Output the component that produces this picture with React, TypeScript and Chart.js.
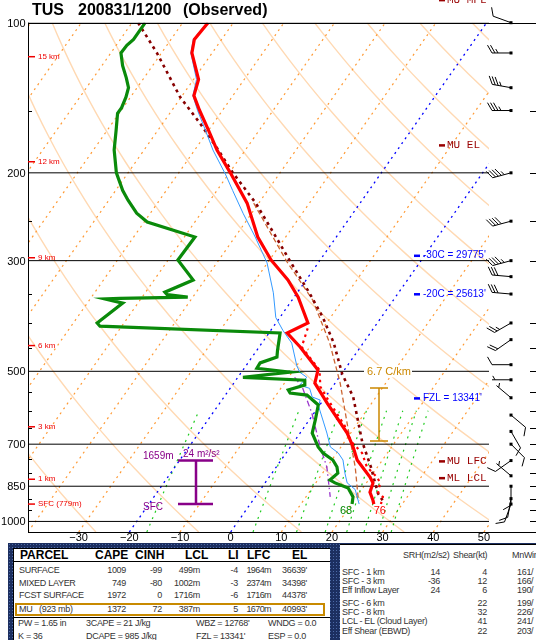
import React, { useEffect, useRef } from "react";
import { Chart, registerables } from "chart.js";

Chart.register(...registerables);

// ---------- axes ----------
const P_BOTTOM = 1050;
const P_TOP = 100;
const T_MIN = -40;
const T_MAX = 51;
const SKEW = 30;

const pressureLevels = [100, 200, 300, 500, 700, 850, 1000];
const pressureLabels = ["100", "200", "300", "500", "700", "850", "1000"];
const minorPressure = [150, 250, 350, 400, 450, 550, 600, 650, 750, 800, 900, 950];
const rightTickPressure = [150, 200, 250, 300, 400, 450, 500, 550, 600, 650, 700, 750, 800, 850, 900, 950, 1000];
const tempTickValues = [-30, -20, -10, 0, 10, 20, 30, 40, 50];
const tempTickLabels = ["−30", "−20", "−10", "0", "10", "20", "30", "40", "50"];

// ---------- reference lines ----------
const isotherms = [-110, -100, -90, -80, -70, -60, -50, -40, -30, -10, 10, 20, 30, 40, 50];
const blueIsotherms = [-20, 0];
const dryAdiabatsC = [-30, -10, 10, 30, 50, 70, 90, 110, 130, 150, 170, 190, 210, 230, 250];
const mixingRatios = [1, 5, 9, 13, 17, 21, 25, 29];
const MIX_TOP = 600;

// ---------- sounding ----------
const tempP = [100, 108, 115, 130, 140, 150, 164, 180, 200, 230, 269, 299, 328, 355, 400, 419, 447, 497, 528, 579, 665, 709, 753, 815, 837, 874, 907, 923];
const tempC = [-75.0, -75.4, -74.0, -69.0, -67.7, -64.5, -60.1, -55.6, -49.8, -42.3, -35.5, -29.7, -23.6, -19.2, -13.7, -16.4, -11.9, -5.2, -4.0, 1.2, 9.3, 12.4, 15.0, 19.9, 21.3, 22.0, 23.7, 24.4];

const dewP = [100, 108, 111, 115, 122, 129, 135, 141, 148, 152, 164, 180, 200, 217, 227, 241, 251, 269, 299, 328, 347, 351, 355, 357, 358, 365, 400, 406, 419, 454, 468, 481, 493, 502, 514, 521, 533, 545, 553, 558, 584, 626, 665, 709, 729, 753, 778, 800, 826, 837, 857, 893, 923];
const dewC = [-87.4, -87.4, -87.9, -88.0, -85.9, -83.5, -81.7, -80.9, -80.3, -80.3, -78.3, -75.9, -72.3, -68.6, -66.2, -62.7, -59.4, -47.9, -48.1, -42.3, -46.2, -45.4, -41.0, -54.2, -57.1, -53.0, -55.3, -54.3, -17.8, -15.9, -15.1, -17.6, -17.5, -10.4, -19.0, -6.4, -5.7, -8.3, -7.5, -3.9, -0.3, 1.2, 2.4, 5.5, 7.3, 10.2, 12.0, 13.0, 12.4, 13.8, 17.1, 19.3, 20.1];

const wetP = [100, 108, 115, 130, 140, 150, 164, 180, 202, 217, 241, 269, 303, 348, 390, 414, 439, 487, 502, 514, 533, 541, 563, 571, 587, 632, 665, 709, 729, 753, 800, 837, 863, 923];
const wetC = [-75.2, -75.6, -74.2, -69.4, -67.9, -64.9, -60.7, -56.4, -50.4, -46.9, -41.7, -36.0, -30.1, -24.7, -20.8, -17.6, -14.1, -10.0, -8.5, -6.4, -6.7, -4.3, -2.6, -0.6, -0.1, 3.1, 5.3, 7.9, 10.3, 12.2, 14.4, 16.2, 18.7, 21.5];

const virtP = [410, 447, 497, 537, 566, 607, 643, 691, 729, 778, 815, 837, 874, 893, 923];
const virtC = [-13.0, -11.6, -4.9, -2.4, 0.5, 4.5, 7.8, 11.2, 15.0, 17.9, 21.3, 22.7, 23.6, 25.2, 25.8];

const muParcelP = [100, 115, 141, 159, 178, 200, 230, 269, 299, 348, 390, 439, 507, 563, 691, 778, 878, 907];
const muParcelC = [-88.8, -80.9, -70.2, -62.7, -56.0, -49.3, -40.6, -31.9, -26.1, -17.6, -11.5, -5.8, 0.2, 5.5, 13.4, 18.7, 23.7, 25.6];

const moistP = [230, 300, 360, 439, 528, 647, 778, 893, 907];
const moistC = [-41.0, -26.6, -15.9, -6.6, 1.0, 8.6, 15.6, 20.3, 21.1];

const downdraftP = [514, 537, 607, 709, 778, 893];
const downdraftC = [-8.8, -6.0, -0.4, 5.9, 10.0, 14.8];

// ---------- winds ----------
const windP = [100, 115, 135, 150, 200, 250, 300, 323, 350, 400, 432, 485, 520, 565, 612, 660, 700, 755, 810, 850, 900, 923];
const windDir = [290, 270, 280, 270, 255, 255, 255, 275, 275, 240, 235, 270, 270, 310, 130, 150, 135, 235, 310, 180, 190, 200];
const windKt = [10, 25, 35, 35, 45, 40, 45, 30, 30, 25, 20, 10, 5, 5, 10, 10, 10, 10, 5, 10, 10, 10];

// ---------- annotations ----------
const heightLabels = ["15 km", "12 km", "9 km", "6 km", "3 km", "1 km", "SFC (779m)"];
const heightLabelP = [117, 190, 296, 444, 646, 823, 923];
const parcelLevelNames = ["MU MPL", "MU EL", "MU LFC", "ML LCL"];
const parcelLevelP = [90, 176, 757, 818];
const isoLevelNames = ["-30C = 29775'", "-20C = 25613'", "FZL = 13341'"];
const isoLevelP = [293, 350, 566];
const lapseLabel = "6.7 C/km";
const lapseLabelP = 500;
const lapseBarP = [540, 690];
const inflowP = [923, 755];
const inflowTopLabel = "1659m";
const inflowSrhLabel = "24 m²/s²";

// ---------- table ----------
const parcelNames = ["SURFACE", "MIXED LAYER", "FCST SURFACE", "MU   (923 mb)"];
const capeVals = ["1009", "749", "1972", "1372"];
const cinhVals = ["-99", "-80", "0", "72"];
const lclVals = ["499m", "1002m", "1716m", "387m"];
const liVals = ["-4", "-3", "-6", "5"];
const lfcVals = ["1964m", "2374m", "1716m", "1670m"];
const elVals = ["36639'", "34398'", "44378'", "40993'"];
const extraRow1 = ["PW = 1.65 in", "3CAPE = 21 J/kg", "WBZ = 12768'", "WNDG = 0.0"];
const extraRow2 = ["K = 36", "DCAPE = 985 J/kg", "FZL = 13341'", "ESP = 0.0"];
const kinLabels = ["SFC - 1 km", "SFC - 3 km", "Eff Inflow Layer", "SFC - 6 km", "SFC - 8 km", "LCL - EL (Cloud Layer)", "Eff Shear (EBWD)"];
const kinSrh = ["14", "-36", "24", "", "", "", ""];
const kinShear = ["4", "12", "6", "22", "32", "41", "22"];
const kinMnWind = ["161/", "166/", "190/", "199/", "226/", "241/", "203/"];

const skew = (t: number, p: number) => t + SKEW * Math.log(P_BOTTOM / p);
const profile = (P: number[], C: number[]) => P.map((p, i) => ({ x: skew(C[i], p), y: p }));
const logSpace = (n: number) => {
  const a: number[] = [];
  for (let i = 0; i <= n; i++) a.push(P_BOTTOM * Math.pow(P_TOP / P_BOTTOM, i / n));
  return a;
};
const dryAdiabat = (thC: number) =>
  logSpace(40).map((p) => ({ x: skew((thC + 273.15) * Math.pow(p / 1000, 0.2857) - 273.15, p), y: p }));
const mixingLine = (w: number) => {
  const out: { x: number; y: number }[] = [];
  for (let i = 0; i <= 12; i++) {
    const p = P_BOTTOM + ((MIX_TOP - P_BOTTOM) * i) / 12;
    const e = (w * p) / (622 + w);
    const l = Math.log(e / 6.112);
    const td = (243.5 * l) / (17.67 - l);
    out.push({ x: skew(td, p), y: p });
  }
  return out;
};
const isoLine = (t: number) => [
  { x: skew(t, P_BOTTOM), y: P_BOTTOM },
  { x: skew(t, P_TOP), y: P_TOP },
];

const ds = (data: any[], color: string, width: number, dash: number[], order: number) => ({
  data,
  borderColor: color,
  backgroundColor: color,
  borderWidth: width,
  borderDash: dash,
  pointRadius: 0,
  showLine: true,
  fill: false,
  tension: 0,
  order,
});

function drawBarb(ctx: CanvasRenderingContext2D, x: number, y: number, dir: number, spd: number) {
  const r = (dir * Math.PI) / 180;
  const ux = Math.sin(r);
  const uy = -Math.cos(r);
  const L = 19;
  const tx = x + ux * L;
  const ty = y + uy * L;
  const px = -uy;
  const py = ux;
  ctx.beginPath();
  ctx.moveTo(x, y);
  ctx.lineTo(tx, ty);
  ctx.stroke();
  let s = Math.round(spd / 5) * 5;
  let pos = 0;
  const step = 3;
  const bl = 9;
  const barb = (d: number, len: number) => {
    const bx = tx - ux * d;
    const by = ty - uy * d;
    ctx.beginPath();
    ctx.moveTo(bx, by);
    ctx.lineTo(bx + (px * 0.87 + ux * 0.5) * len, by + (py * 0.87 + uy * 0.5) * len);
    ctx.stroke();
  };
  while (s >= 10) {
    barb(pos, bl);
    pos += step;
    s -= 10;
  }
  if (s >= 5) {
    if (pos === 0) pos = step;
    barb(pos, bl / 2);
  }
  ctx.fillStyle = "#000";
  ctx.fillRect(x - 1.5, y - 1.5, 3, 3);
}

const annotPlugin = {
  id: "skewtAnnot",
  afterDraw(chart: any) {
    const { ctx, chartArea: a, scales } = chart;
    const xs = scales.x;
    const ys = scales.y;
    const X = (t: number, p: number) => xs.getPixelForValue(skew(t, p));
    const Y = (p: number) => ys.getPixelForValue(p);
    const W = 536;
    ctx.save();
    const hline = (x1: number, x2: number, y: number) => {
      const yy = Math.round(y) + 0.5;
      ctx.beginPath();
      ctx.moveTo(x1, yy);
      ctx.lineTo(x2, yy);
      ctx.stroke();
    };

    // frame
    ctx.strokeStyle = "#000";
    ctx.lineWidth = 1;
    hline(a.left, W, a.top);
    hline(a.left, W, a.bottom);
    ctx.beginPath();
    ctx.moveTo(Math.round(a.left) + 0.5, a.top);
    ctx.lineTo(Math.round(a.left) + 0.5, a.bottom);
    ctx.stroke();
    minorPressure.forEach((p) => hline(a.left, a.left + 4, Y(p)));
    rightTickPressure.forEach((p) => hline(W - 6, W, Y(p)));

    // title
    ctx.fillStyle = "#000";
    ctx.font = "bold 16px 'Liberation Sans', Arial, sans-serif";
    ctx.textBaseline = "alphabetic";
    ctx.textAlign = "left";
    ctx.fillText("TUS", 32, 15);
    ctx.fillText("200831/1200", 78, 15);
    ctx.fillText("(Observed)", 183, 15);

    // pressure labels
    ctx.font = "11px 'Liberation Sans', Arial, sans-serif";
    ctx.textBaseline = "middle";
    ctx.textAlign = "right";
    pressureLevels.forEach((p, i) => ctx.fillText(pressureLabels[i], a.left - 2.5, Y(p) + 1));
    // temperature labels
    ctx.textAlign = "center";
    tempTickValues.forEach((t, i) => ctx.fillText(tempTickLabels[i], xs.getPixelForValue(t), a.bottom + 5.5));

    // height labels
    ctx.strokeStyle = "#ee0000";
    ctx.fillStyle = "#ee0000";
    ctx.lineWidth = 1.5;
    ctx.font = "8px 'Liberation Sans', Arial, sans-serif";
    ctx.textAlign = "left";
    heightLabelP.forEach((p, i) => {
      const y = Y(p);
      ctx.beginPath();
      ctx.moveTo(a.left, y);
      ctx.lineTo(a.left + 7, y);
      ctx.stroke();
      ctx.fillText(heightLabels[i], a.left + 10, y);
    });

    // parcel levels
    ctx.fillStyle = "#990000";
    ctx.font = "11px 'Liberation Mono', 'Courier New', monospace";
    parcelLevelP.forEach((p, i) => {
      const y = Y(p);
      ctx.fillRect(439, y - 1, 6, 2.5);
      ctx.fillText(parcelLevelNames[i], 447, y);
    });

    // isotherm levels
    ctx.fillStyle = "#0000ff";
    ctx.font = "10px 'Liberation Sans', Arial, sans-serif";
    isoLevelP.forEach((p, i) => {
      const y = Y(p);
      ctx.fillRect(414, y - 1, 6, 2.5);
      ctx.fillText(isoLevelNames[i], 423, y);
    });

    // lapse rate
    const gold = "#cc8800";
    const ly = Y(lapseLabelP);
    ctx.fillStyle = "#fff";
    ctx.fillRect(364, ly - 6, 48, 12);
    ctx.fillStyle = gold;
    ctx.font = "11px 'Liberation Sans', Arial, sans-serif";
    ctx.fillText(lapseLabel, 367, ly + 1);
    ctx.strokeStyle = gold;
    ctx.lineWidth = 1.5;
    const lt = Y(lapseBarP[0]);
    const lb = Y(lapseBarP[1]);
    ctx.beginPath();
    ctx.moveTo(379, lt);
    ctx.lineTo(379, lb);
    ctx.moveTo(370, lt);
    ctx.lineTo(388, lt);
    ctx.moveTo(370, lb);
    ctx.lineTo(388, lb);
    ctx.stroke();

    // effective inflow layer
    const purple = "#880088";
    const ib = Y(inflowP[0]);
    const itp = Y(inflowP[1]);
    ctx.strokeStyle = purple;
    ctx.lineWidth = 2.5;
    ctx.beginPath();
    ctx.moveTo(196, ib);
    ctx.lineTo(196, itp);
    ctx.moveTo(178, ib);
    ctx.lineTo(213, ib);
    ctx.moveTo(178, itp);
    ctx.lineTo(213, itp);
    ctx.stroke();
    ctx.fillStyle = purple;
    ctx.font = "10px 'Liberation Sans', Arial, sans-serif";
    ctx.fillText(inflowTopLabel, 143, itp - 4);
    ctx.fillText(inflowSrhLabel, 183, itp - 6);
    ctx.fillText("SFC", 143, ib + 3);

    // surface values
    const sfcT = tempC[tempC.length - 1];
    const sfcTd = dewC[dewC.length - 1];
    const sfcP = tempP[tempP.length - 1];
    ctx.font = "11px 'Liberation Sans', Arial, sans-serif";
    ctx.textAlign = "center";
    ctx.fillStyle = "#008800";
    ctx.fillText(String(Math.round((sfcTd * 9) / 5 + 32)), X(sfcTd, sfcP) - 6, Y(sfcP) + 7);
    ctx.fillStyle = "#ff0000";
    ctx.fillText(String(Math.round((sfcT * 9) / 5 + 32)), X(sfcT, sfcP) + 6, Y(sfcP) + 7);

    // wind barbs
    ctx.strokeStyle = "#000";
    ctx.lineWidth = 1;
    windP.forEach((p, i) => drawBarb(ctx, 511, Y(p), windDir[i], windKt[i]));

    ctx.restore();
  },
};

function Txt(props: { x: number; y: number; text: string; align?: string; size?: number; bold?: boolean; color?: string; ls?: number }) {
  const { x, y, text, align = "left", size = 9, bold = false, color = "#333", ls = -0.3 } = props;
  const style: any = {
    position: "absolute",
    top: y - size * 0.6,
    fontSize: size,
    lineHeight: `${size * 1.2}px`,
    fontWeight: bold ? 700 : 400,
    letterSpacing: `${ls}px`,
    color,
    whiteSpace: "pre",
  };
  if (align === "left") style.left = x;
  else style.right = 536 - x;
  return <div style={style}>{text}</div>;
}

export default function App() {
  const ref = useRef<HTMLCanvasElement>(null);

  useEffect(() => {
    document.body.style.margin = "0";
    const canvas = ref.current;
    if (!canvas) return;
    const datasets: any[] = [
      ds(profile(tempP, tempC), "#ff0000", 3.2, [], 1),
      ds(profile(dewP, dewC), "#0a8a0a", 3.2, [], 2),
      ds(profile(wetP, wetC), "#3399ff", 1, [], 3),
      ds(profile(virtP, virtC), "#ff0000", 2.2, [2.5, 4], 4),
      ds(profile(muParcelP, muParcelC), "#880000", 2.6, [3, 4], 5),
      ds(profile(moistP, moistC), "#cc6633", 1.3, [5, 3], 6),
      ds(profile(downdraftP, downdraftC), "#9933cc", 1.3, [6, 3, 1.5, 3], 7),
    ];
    pressureLevels.forEach((p) =>
      datasets.push(ds([{ x: T_MIN, y: p }, { x: T_MAX, y: p }], "#000000", 1, [], 50))
    );
    blueIsotherms.forEach((t) => datasets.push(ds(isoLine(t), "#0000ff", 1.3, [2, 4], 60)));
    mixingRatios.forEach((w) => datasets.push(ds(mixingLine(w), "#22cc22", 1.2, [2, 5], 70)));
    isotherms.forEach((t) => datasets.push(ds(isoLine(t), "#ff9933", 1.2, [2, 4], 80)));
    dryAdiabatsC.forEach((th) => datasets.push(ds(dryAdiabat(th), "#ffd9b3", 1.4, [], 90)));

    const chart = new Chart(canvas, {
      type: "scatter",
      data: { datasets },
      options: {
        responsive: false,
        animation: false,
        events: [],
        layout: { padding: { left: 28, right: 47, top: 22.7, bottom: 108 } },
        scales: {
          x: { type: "linear", min: T_MIN, max: T_MAX, display: false },
          y: { type: "logarithmic", min: P_TOP, max: P_BOTTOM, reverse: true, display: false },
        },
        plugins: { legend: { display: false }, tooltip: { enabled: false } },
      } as any,
      plugins: [annotPlugin as any],
    });
    return () => chart.destroy();
  }, []);

  const navy = "#1c2f60";
  const parcelRowY = [570, 583, 595, 609];
  const kinRowY = [572, 581, 590, 603, 612, 621, 631];

  return (
    <div
      style={{
        position: "absolute",
        left: 0,
        top: 0,
        width: 536,
        height: 640,
        overflow: "hidden",
        background: "#fff",
        fontFamily: "'Liberation Sans', Arial, sans-serif",
      }}
    >
      <canvas ref={ref} width={536} height={640} style={{ position: "absolute", left: 0, top: 0 }} />
      <div
        style={{
          position: "absolute",
          left: 8,
          top: 543,
          width: 528,
          height: 97,
          backgroundColor: navy,
          backgroundImage: "radial-gradient(#4d6aa6 0.7px, transparent 0.9px)",
          backgroundSize: "3px 3px",
        }}
      />
      <div style={{ position: "absolute", left: 13, top: 548, width: 317, height: 92, background: "#fff", borderTop: "1px solid #000", borderLeft: "1px solid #000", boxSizing: "border-box" }} />
      <div style={{ position: "absolute", left: 340, top: 544, width: 196, height: 96, background: "#fff", borderTop: "1px solid #000", boxSizing: "border-box" }} />
      <div style={{ position: "absolute", left: 13, top: 561, width: 317, height: 1, background: "#000" }} />
      <div style={{ position: "absolute", left: 13, top: 617, width: 317, height: 1, background: "#000" }} />
      <div style={{ position: "absolute", left: 15, top: 603, width: 310, height: 13, border: "2px solid #c88a00", boxSizing: "border-box" }} />

      <Txt x={20} y={555} text="PARCEL" size={12} bold color="#000" ls={0} />
      <Txt x={95} y={555} text="CAPE" size={12} bold color="#000" ls={0} />
      <Txt x={135} y={555} text="CINH" size={12} bold color="#000" ls={0} />
      <Txt x={185} y={555} text="LCL" size={12} bold color="#000" ls={0} />
      <Txt x={228} y={555} text="LI" size={12} bold color="#000" ls={0} />
      <Txt x={247} y={555} text="LFC" size={12} bold color="#000" ls={0} />
      <Txt x={292} y={555} text="EL" size={12} bold color="#000" ls={0} />

      {parcelNames.map((n, i) => (
        <React.Fragment key={n}>
          <Txt x={19} y={parcelRowY[i]} text={n} />
          <Txt x={126} y={parcelRowY[i]} text={capeVals[i]} align="right" />
          <Txt x={162} y={parcelRowY[i]} text={cinhVals[i]} align="right" />
          <Txt x={200} y={parcelRowY[i]} text={lclVals[i]} align="right" />
          <Txt x={238} y={parcelRowY[i]} text={liVals[i]} align="right" />
          <Txt x={271} y={parcelRowY[i]} text={lfcVals[i]} align="right" ls={-0.6} />
          <Txt x={307} y={parcelRowY[i]} text={elVals[i]} align="right" />
        </React.Fragment>
      ))}
      {[18, 86, 196, 268].map((x, i) => (
        <React.Fragment key={x}>
          <Txt x={x} y={623} text={extraRow1[i]} />
          <Txt x={x} y={636} text={extraRow2[i]} />
        </React.Fragment>
      ))}

      <Txt x={403} y={555} text="SRH(m2/s2)" />
      <Txt x={453} y={555} text="Shear(kt)" />
      <Txt x={512} y={555} text="MnWind" />
      {kinLabels.map((n, i) => (
        <React.Fragment key={n}>
          <Txt x={342} y={kinRowY[i]} text={n} />
          <Txt x={440} y={kinRowY[i]} text={kinSrh[i]} align="right" />
          <Txt x={487} y={kinRowY[i]} text={kinShear[i]} align="right" />
          <Txt x={517} y={kinRowY[i]} text={kinMnWind[i]} />
        </React.Fragment>
      ))}
    </div>
  );
}
